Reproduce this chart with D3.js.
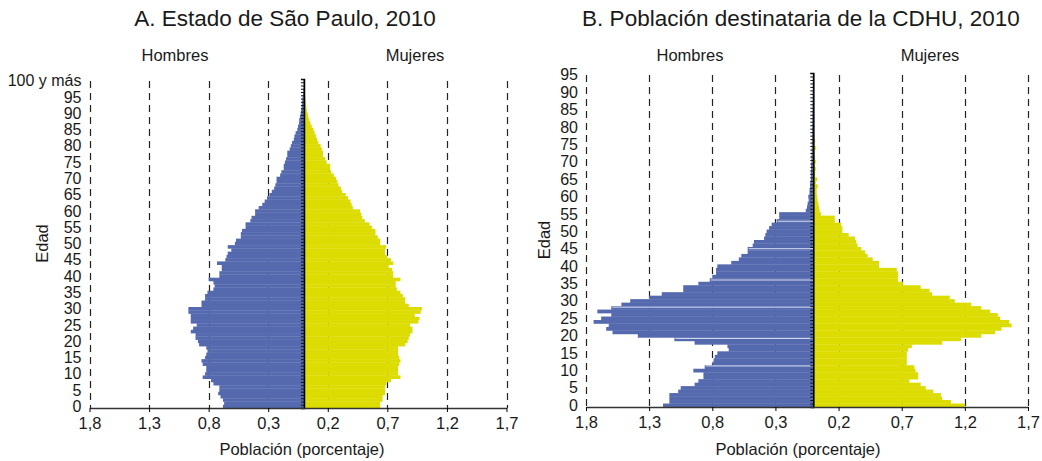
<!DOCTYPE html>
<html>
<head>
<meta charset="utf-8">
<script src="https://cdn.jsdelivr.net/npm/d3@7"></script>
<style>
  body { margin: 0; background: #fff; }
  svg text { font-family: "Liberation Sans", Arial, sans-serif; fill: #1a1a1a; }
  .grid line { stroke: #222; stroke-dasharray: 7,5; }
</style>
</head>
<body>
<div id="dataviz"></div>
<script>
// data: share of population (%) by single year of age, 0 .. 100+
var maleSP = [0.68,0.67,0.68,0.70,0.72,0.71,0.71,0.76,0.78,0.85,
  0.83,0.82,0.82,0.85,0.86,0.83,0.82,0.81,0.82,0.88,
  0.89,0.91,0.91,0.95,0.93,0.90,0.95,0.95,0.95,0.97,
  0.97,0.86,0.86,0.83,0.83,0.81,0.76,0.75,0.76,0.80,
  0.71,0.71,0.69,0.69,0.73,0.66,0.65,0.64,0.61,0.64,
  0.58,0.57,0.53,0.53,0.52,0.49,0.49,0.45,0.44,0.41,
  0.41,0.38,0.35,0.33,0.31,0.29,0.27,0.25,0.24,0.23,
  0.23,0.20,0.19,0.17,0.17,0.16,0.15,0.14,0.14,0.12,
  0.11,0.10,0.085,0.08,0.07,0.056,0.05,0.042,0.04,0.034,
  0.028,0.023,0.02,0.017,0.014,0.011,0.008,0.006,0.004,0.003,0.004];
var femaleSP = [0.64,0.64,0.66,0.66,0.68,0.68,0.68,0.69,0.73,0.81,
  0.79,0.79,0.79,0.80,0.81,0.80,0.79,0.79,0.79,0.85,
  0.87,0.88,0.89,0.91,0.91,0.89,0.96,0.97,0.93,0.98,
  0.99,0.88,0.85,0.85,0.83,0.81,0.78,0.77,0.77,0.81,
  0.75,0.75,0.74,0.71,0.75,0.73,0.70,0.68,0.68,0.69,
  0.64,0.64,0.62,0.60,0.60,0.57,0.55,0.51,0.49,0.48,
  0.47,0.41,0.40,0.39,0.37,0.35,0.32,0.31,0.29,0.28,
  0.27,0.25,0.23,0.22,0.22,0.19,0.18,0.16,0.16,0.15,
  0.14,0.12,0.11,0.10,0.09,0.08,0.065,0.054,0.045,0.037,
  0.031,0.023,0.02,0.017,0.014,0.011,0.008,0.006,0.004,0.003,0.006];

// CDHU target population, ages 0 .. 95
var maleCDHU = [1.19,1.14,1.14,1.14,1.07,1.05,0.94,0.91,0.87,0.87,
  0.95,0.86,0.80,0.79,0.78,0.76,0.67,0.68,0.94,1.10,
  1.39,1.59,1.64,1.62,1.74,1.68,1.60,1.71,1.60,1.52,
  1.45,1.30,1.20,1.03,1.03,0.91,0.82,0.80,0.77,0.77,
  0.76,0.65,0.59,0.57,0.52,0.52,0.48,0.47,0.39,0.38,
  0.37,0.35,0.33,0.29,0.27,0.27,0.06,0.05,0.045,0.037,
  0.04,0.03,0.03,0.025,0.025,0.02,0.02,0.02,0.018,0.018,
  0.015,0.015,0.014,0.013,0.012,0.012,0.011,0.01,0.01,0.01,
  0.009,0.009,0.008,0.008,0.008,0.007,0.007,0.007,0.006,0.006,
  0.006,0.005,0.005,0.005,0.005,0.005];
var femaleCDHU = [1.20,1.09,1.02,1.01,0.95,0.89,0.85,0.76,0.83,0.83,
  0.81,0.80,0.74,0.74,0.74,0.74,0.75,0.78,1.02,1.17,
  1.33,1.44,1.49,1.57,1.55,1.48,1.46,1.40,1.33,1.25,
  1.12,1.08,0.94,0.92,0.85,0.71,0.67,0.67,0.67,0.66,
  0.52,0.52,0.47,0.43,0.41,0.38,0.35,0.34,0.33,0.28,
  0.23,0.23,0.22,0.17,0.17,0.06,0.05,0.045,0.04,0.034,
  0.03,0.027,0.027,0.035,0.02,0.03,0.015,0.015,0.02,0.012,
  0.02,0.015,0.01,0.01,0.02,0.01,0.015,0.008,0.008,0.007,
  0.007,0.006,0.006,0.006,0.005,0.005,0.005,0.005,0.005,0.004,
  0.004,0.004,0.004,0.004,0.004,0.004];

// light seams visible across the male bars of panel B (ages)
var seamsCDHU = [11.8, 19.7, 28.7, 36.5, 45.5, 53.4];

var xTicks = [-1.8, -1.3, -0.8, -0.3, 0.2, 0.7, 1.2, 1.7];
var ageTicksA = [0,5,10,15,20,25,30,35,40,45,50,55,60,65,70,75,80,85,90,95,100];
var ageTicksB = [0,5,10,15,20,25,30,35,40,45,50,55,60,65,70,75,80,85,90,95];
var topAgeLabel = "100 y más";

var blue = "#5569ae";
var yellow = "#dcdc00";

var widthFull = 1042;
var heightFull = 461;
var fs = "16.5px";

var svg = d3.select("#dataviz").append("svg")
    .attr("width", widthFull)
    .attr("height", heightFull)
    .attr("viewBox", `0 0 ${widthFull} ${heightFull}`);

var loc = d3.formatLocale({ decimal: ",", thousands: ".", grouping: [3], currency: ["", ""] });
var f = loc.format(".1f");

function pyramid(opt) {
    var g = svg.append("g");
    var n = opt.male.length;
    var x = d3.scaleLinear().domain([-1.8, 1.7]).range([opt.left, opt.right]);
    var y = d3.scaleLinear().domain([0, n]).range([opt.bottom, opt.top]);

    // title and sex labels
    g.append("text")
        .attr("x", opt.titleX).attr("y", 26)
        .attr("text-anchor", "middle")
        .style("font-size", "22.5px")
        .text(opt.title);
    g.append("text").attr("x", opt.hombresX).attr("y", 61)
        .attr("text-anchor", "middle").style("font-size", fs).text("Hombres");
    g.append("text").attr("x", opt.mujeresX).attr("y", 61)
        .attr("text-anchor", "middle").style("font-size", fs).text("Mujeres");

    // dashed gridlines
    g.append("g").attr("class", "grid")
        .selectAll("line").data(xTicks).enter().append("line")
        .attr("x1", d => Math.round(x(d)) + 0.5)
        .attr("x2", d => Math.round(x(d)) + 0.5)
        .attr("y1", opt.top + 2)
        .attr("y2", opt.bottom)
        .attr("stroke-width", 1.2);

    var ages = d3.range(n);
    // males
    g.append("g").selectAll("rect").data(ages).enter().append("rect")
        .attr("x", a => x(-opt.male[a]))
        .attr("width", a => x(0) - x(-opt.male[a]))
        .attr("y", a => y(a + 1))
        .attr("height", a => y(a) - y(a + 1) + 0.3)
        .attr("fill", blue);
    // females
    g.append("g").selectAll("rect").data(ages).enter().append("rect")
        .attr("x", x(0))
        .attr("width", a => x(opt.female[a]) - x(0))
        .attr("y", a => y(a + 1))
        .attr("height", a => y(a) - y(a + 1) + 0.3)
        .attr("fill", yellow);

    if (opt.seams) {
        g.append("g").selectAll("line").data(opt.seams).enter().append("line")
            .attr("x1", x(0))
            .attr("x2", d => x(-opt.male[Math.floor(d)]) + 1)
            .attr("y1", d => y(d))
            .attr("y2", d => y(d))
            .attr("stroke", "#d6dcf0")
            .attr("stroke-width", 1);
    }

    // centre axis with a tick per year
    g.append("g")
        .attr("transform", "translate(" + x(0) + ",0)")
        .call(d3.axisLeft(y).tickValues(d3.range(n + 1)).tickSize(3).tickFormat(""))
        .call(s => s.selectAll("line").attr("stroke", "#111"))
        .call(s => s.select(".domain").attr("stroke", "#000").attr("stroke-width", 1.6));

    // bottom axis
    g.append("g")
        .attr("transform", "translate(0," + opt.bottom + ")")
        .call(d3.axisBottom(x).tickValues(xTicks).tickSize(4).tickSizeOuter(0)
            .tickFormat(d => f(Math.abs(d))))
        .call(s => s.select(".domain").attr("stroke", "#333").attr("stroke-width", 1.4))
        .call(s => s.selectAll("text").style("font-size", fs)
            .style("font-family", "Liberation Sans, Arial, sans-serif").attr("fill", "#1a1a1a").attr("dy", "0.85em"));

    // age labels
    g.append("g").selectAll("text").data(opt.ageTicks).enter().append("text")
        .attr("x", opt.left - 8)
        .attr("y", d => y(d + 0.5))
        .attr("dy", "0.35em")
        .attr("text-anchor", "end")
        .style("font-size", "16px")
        .text(d => d === 100 ? topAgeLabel : d);

    g.append("text")
        .attr("transform", "translate(" + opt.edadX + "," + ((opt.top + opt.bottom) / 2) + ") rotate(-90)")
        .attr("text-anchor", "middle")
        .style("font-size", fs)
        .text("Edad");

    g.append("text")
        .attr("x", opt.xTitleX).attr("y", 455)
        .attr("text-anchor", "middle")
        .style("font-size", fs)
        .text("Población (porcentaje)");
}

pyramid({
    title: "A. Estado de São Paulo, 2010", titleX: 285,
    male: maleSP, female: femaleSP, ageTicks: ageTicksA,
    left: 89.5, right: 506.5, top: 79, bottom: 408,
    hombresX: 175, mujeresX: 415, edadX: 48, xTitleX: 302
});

pyramid({
    title: "B. Población destinataria de la CDHU, 2010", titleX: 801,
    male: maleCDHU, female: femaleCDHU, ageTicks: ageTicksB,
    left: 586, right: 1028, top: 73, bottom: 407,
    hombresX: 690, mujeresX: 930, edadX: 550, xTitleX: 798,
    seams: seamsCDHU
});
</script>
</body>
</html>
